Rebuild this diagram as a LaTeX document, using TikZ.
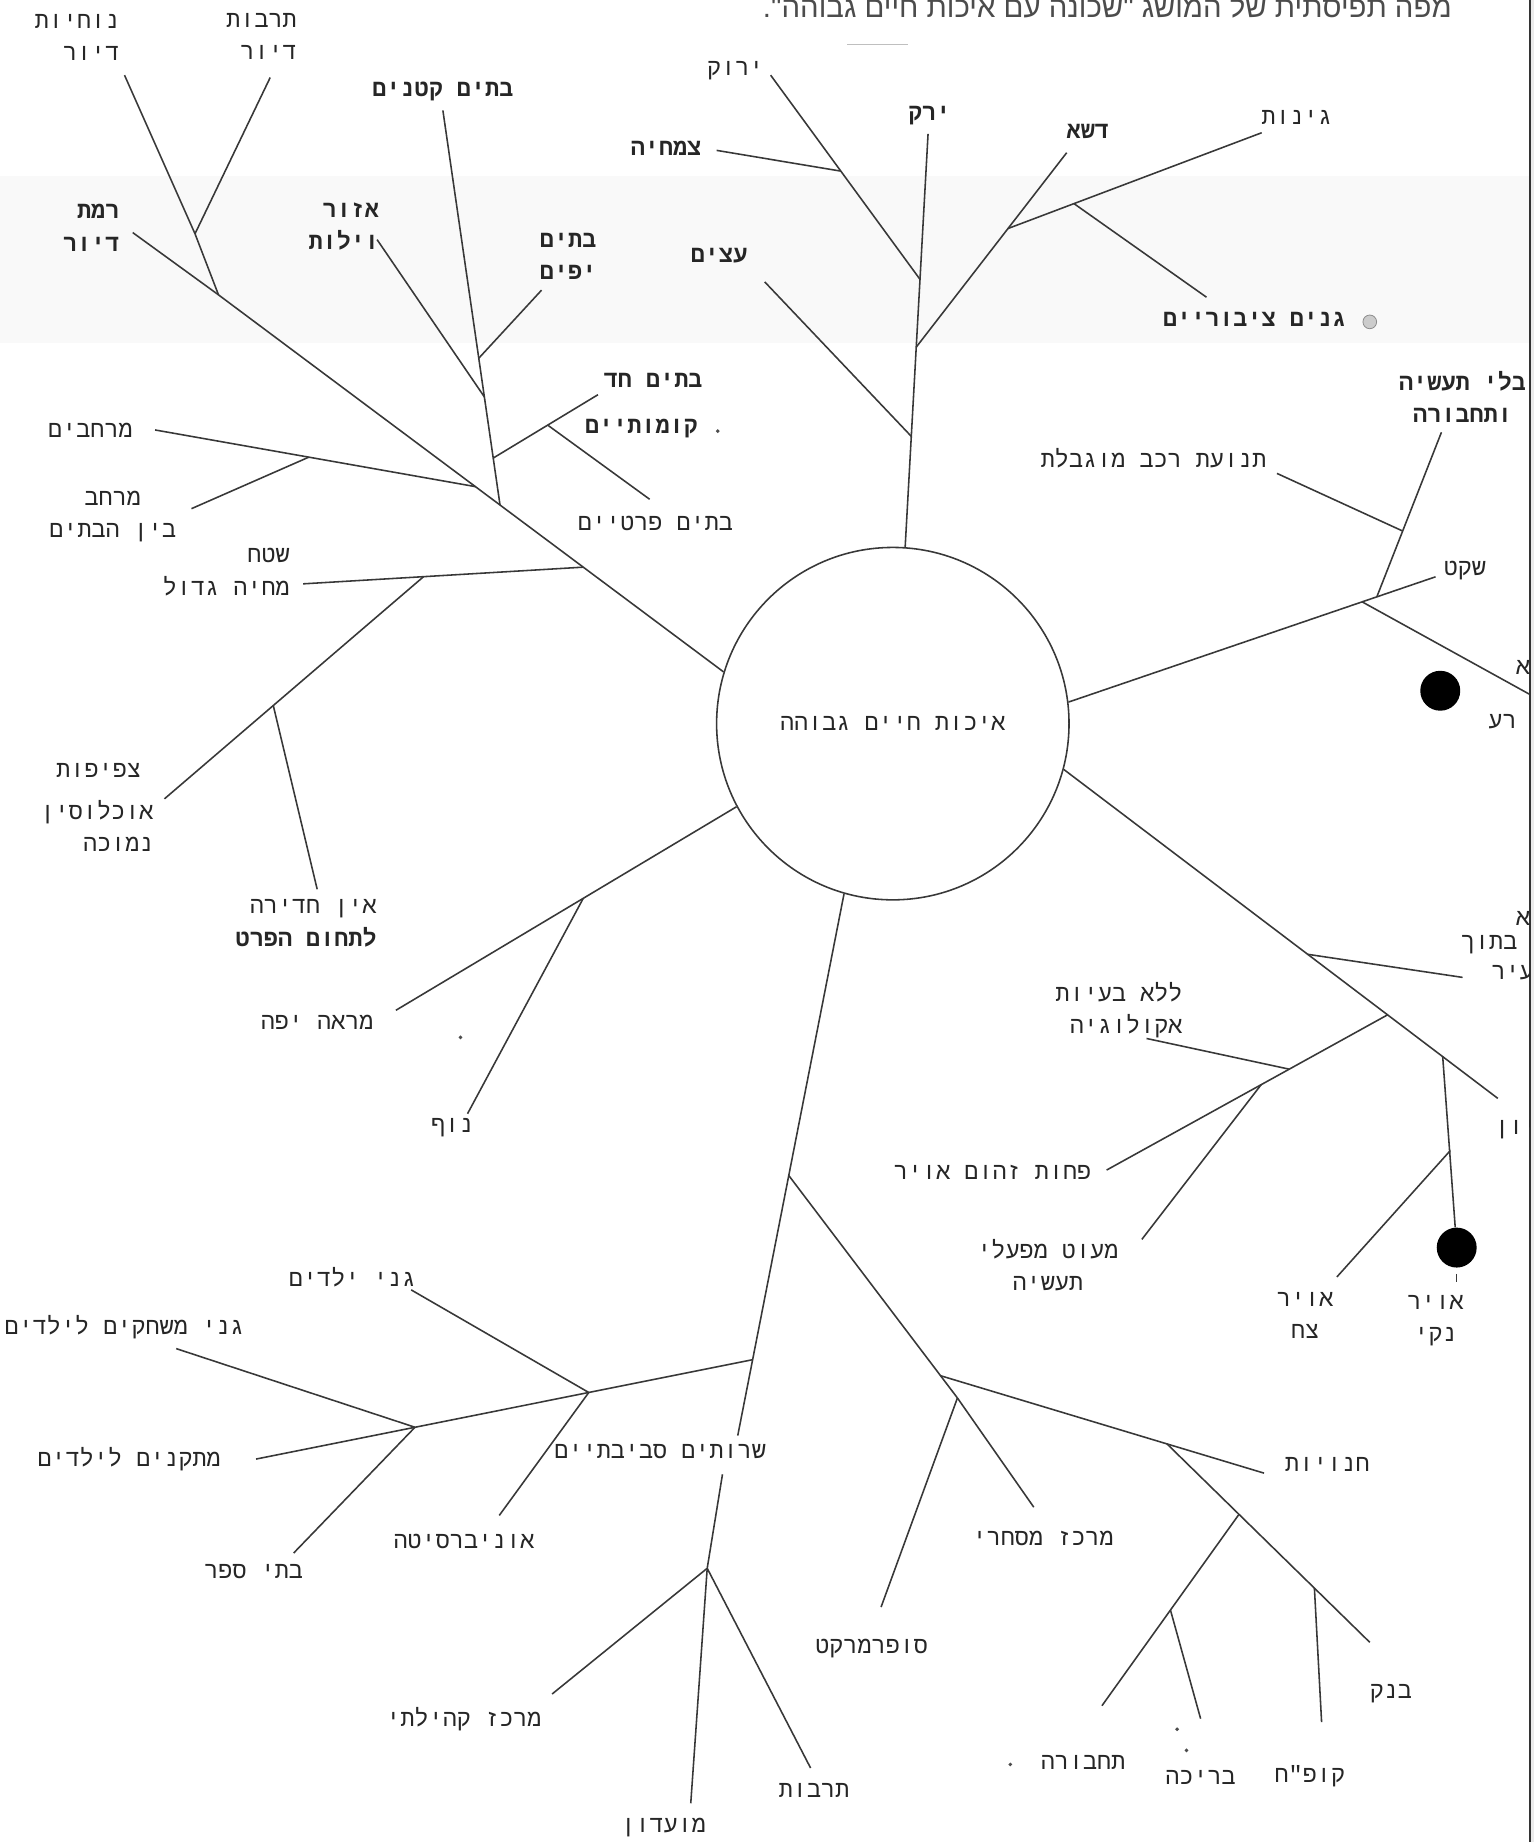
\documentclass[tikz,border=0pt]{standalone}
\usepackage{fontspec}
\usetikzlibrary{calc}
\TeXXeTstate=1
\newfontfamily\hb[Script=Hebrew]{Liberation Mono}
\newfontfamily\hbt[Script=Hebrew]{Liberation Sans}
\newcommand{\heb}[1]{\beginR #1\endR}
\tikzset{
 lbl/.style={font=\hb\fontsize{12}{16.5}\selectfont, text=black!85, inner sep=0pt, align=right},
 blbl/.style={lbl, font=\hb\bfseries\fontsize{12}{16.5}\selectfont},
 br/.style={draw=black!78, line width=0.8pt},
 dotb/.style={circle, fill=black, inner sep=0pt, minimum size=20.4pt},
 speck/.style={circle, fill=black!70, inner sep=0pt, minimum size=2pt},
}
\begin{document}
\begin{tikzpicture}[x=0.6pt,y=-0.6pt]
\useasboundingbox (0,0) rectangle (1306,1568);
\fill[white] (0,0) rectangle (1306,1568);
\fill[black!2.5] (0,150) rectangle (1302,292);
\fill[black!8] (1302,0) rectangle (1306,1568);
\draw[black!80, line width=1pt] (1302,0) -- (1302,1568);
\draw[black!25, line width=0.8pt] (721,38) -- (773,38);

% title
\node[font=\hbt\fontsize{15}{17}\selectfont, text=black!70, anchor=east, inner sep=0pt] (title) at (1236,5) {\heb{מפה תפיסתית של המושג "שכונה עם איכות חיים גבוהה".}};

% centre
\node[draw=black!78, line width=0.8pt, circle, minimum size=180pt, inner sep=0pt, font=\hb\fontsize{12}{14}\selectfont, text=black!85] (C) at (760,616) {\heb{איכות חיים גבוהה}};

% ---------- housing (upper left)
\coordinate (A0) at (C.163);
\coordinate (J1) at (186,251);
\coordinate (RmE) at (113,198);
\coordinate (J1a) at (166,199);
\coordinate (NcE) at (106,64);
\coordinate (TbE) at (230,66);
\coordinate (J2) at ($(A0)!0.4426!(J1)$);
\coordinate (Jm) at ($(A0)!0.4914!(J1)$);
\coordinate (Jsh) at ($(A0)!0.2778!(J1)$);
\coordinate (VT) at (377,94);
\coordinate (Jv1) at ($(VT)!0.628!(J2)$);
\coordinate (Jv2) at ($(VT)!0.726!(J2)$);
\coordinate (Jv3) at ($(VT)!0.881!(J2)$);
\coordinate (YfE) at (461,247);
\coordinate (AzE) at (321,204);
\coordinate (ChE) at (509,336);
\coordinate (Jch) at ($(Jv3)!0.52!(ChE)$);
\coordinate (PrE) at (553,425);
\coordinate (MrE) at (132,366);
\coordinate (Jm2) at ($(MrE)!0.48!(Jm)$);
\coordinate (MbE) at (163,433);
\coordinate (ShE) at (258,497);
\coordinate (Jsh2) at ($(ShE)!0.43!(Jsh)$);
\coordinate (TzE) at (140,680);
\coordinate (Jc) at ($(Jsh2)!0.58!(TzE)$);
\coordinate (AiE) at (270,757);
\draw[br] (A0) -- (J1) -- (RmE);
\draw[br] (J1) -- (J1a) -- (NcE);
\draw[br] (J1a) -- (TbE);
\draw[br] (J2) -- (VT);
\draw[br] (Jv1) -- (YfE);
\draw[br] (Jv2) -- (AzE);
\draw[br] (Jv3) -- (ChE);
\draw[br] (Jch) -- (PrE);
\draw[br] (Jm) -- (MrE);
\draw[br] (Jm2) -- (MbE);
\draw[br] (Jsh) -- (ShE);
\draw[br] (Jsh2) -- (TzE);
\draw[br] (Jc) -- (AiE);

\node[lbl, anchor=east] (nochiut) at (102,32) {\heb{נוחיות}\\\heb{דיור}};
\node[lbl, anchor=east] (tarbutd) at (253,31) {\heb{תרבות}\\\heb{דיור}};
\node[blbl, anchor=east] (ramat) at (102,194) {\heb{רמת}\\\heb{דיור}};
\node[blbl] (ktanim) at (377,78) {\heb{בתים קטנים}};
\node[blbl, anchor=east] (azor) at (323,193) {\heb{אזור}\\\heb{וילות}};
\node[blbl, anchor=east] (yafim) at (508,218) {\heb{בתים}\\\heb{יפים}};
\node[blbl] (chad) at (556,324) {\heb{בתים חד}};
\node[blbl] (komot) at (546,365) {\heb{קומותיים}};
\node[speck] (sp1) at (611,367) {};
\node[lbl] (pratiim) at (558,446) {\heb{בתים פרטיים}};
\node[lbl] (merchavim) at (77,366) {\heb{מרחבים}};
\node[lbl, align=center] (merchav) at (96,440) {\heb{מרחב}\\\heb{בין הבתים}};
\node[lbl, anchor=east] (shetach) at (247,487) {\heb{שטח}\\\heb{מחיה גדול}};
\node[lbl] (tzfifut) at (84,656) {\heb{צפיפות}};
\node[lbl, anchor=east] (ochlusin) at (131,703) {\heb{אוכלוסין}\\\heb{נמוכה}};
\node[lbl, anchor=east] (ein) at (321,786) {\heb{אין חדירה}\\\bfseries\heb{לתחום הפרט}};
\node[lbl] (mare) at (270,870) {\heb{מראה יפה}};
\node[speck] (sp2) at (392,883) {};
\node[lbl] (nof) at (385,960) {\heb{נוף}};

% ---------- greenery (top)
\coordinate (G0) at (C.86);
\coordinate (YkE) at (790,114);
\coordinate (Jet) at ($(G0)!0.268!(YkE)$);
\coordinate (Jgr) at ($(G0)!0.484!(YkE)$);
\coordinate (Jyr) at ($(G0)!0.648!(YkE)$);
\coordinate (YrE) at (656,64);
\coordinate (Jts) at ($(Jyr)!0.53!(YrE)$);
\coordinate (TsE) at (610,128);
\coordinate (EtE) at (651,240);
\coordinate (DsE) at (908,130);
\coordinate (Jdg) at ($(Jgr)!0.61!(DsE)$);
\coordinate (GnE) at (1074,113);
\coordinate (Jgc) at ($(Jdg)!0.26!(GnE)$);
\coordinate (GcE) at (1027,253);
\draw[br] (G0) -- (YkE);
\draw[br] (Jyr) -- (YrE);
\draw[br] (Jts) -- (TsE);
\draw[br] (Jet) -- (EtE);
\draw[br] (Jgr) -- (DsE);
\draw[br] (Jdg) -- (GnE);
\draw[br] (Jgc) -- (GcE);

\node[lbl] (yarok) at (626,60) {\heb{ירוק}};
\node[blbl] (tsmachia) at (567,126) {\heb{צמחיה}};
\node[blbl] (yarak) at (791,98) {\heb{ירק}};
\node[blbl] (etzim) at (612,218) {\heb{עצים}};
\node[blbl] (desha) at (926,112) {\heb{דשא}};
\node[lbl] (ginot) at (1104,100) {\heb{גינות}};
\node[blbl] (ganim) at (1068,272) {\heb{גנים ציבוריים}};
\node[circle, draw=black!45, fill=black!20, minimum size=7pt, inner sep=0pt] (smudge) at (1166,274) {};

% ---------- quiet (right upper)
\coordinate (F0) at (C.7);
\coordinate (SkE) at (1222,491);
\coordinate (Jf) at ($(F0)!0.80!(SkE)$);
\coordinate (Jf2) at ($(F0)!0.84!(SkE)$);
\coordinate (TvE) at (1227,368);
\coordinate (Jtn) at ($(TvE)!0.6!(Jf2)$);
\coordinate (TnE) at (1087,403);
\coordinate (RsE) at (1302,591);
\draw[br] (F0) -- (SkE);
\draw[br] (Jf2) -- (TvE);
\draw[br] (Jtn) -- (TnE);
\draw[br] (Jf) -- (RsE);
\node[lbl] (tnuat) at (982,390) {\heb{תנועת רכב מוגבלת}};
\node[lbl] (shaket) at (1247,486) {\heb{שקט}};
\node[dotb] (D1) at (1226,588) {};
\node[lbl] (raash) at (1279,614) {\heb{רע}};

% ---------- ecology (right lower)
\coordinate (E0) at (C.-15);
\coordinate (EE) at (1275,935);
\coordinate (Je1) at ($(E0)!0.562!(EE)$);
\coordinate (BtE) at (1245,832);
\coordinate (Je2) at ($(E0)!0.746!(EE)$);
\coordinate (PcE) at (942,996);
\coordinate (Je3) at ($(Je2)!0.35!(PcE)$);
\coordinate (Je4) at ($(Je2)!0.45!(PcE)$);
\coordinate (LlE) at (976,884);
\coordinate (MtE) at (972,1055);
\coordinate (Je5) at ($(E0)!0.873!(EE)$);
\node[dotb] (D2) at (1240,1062) {};
\coordinate (Ja) at ($(Je5)!0.55!(D2.north)$);
\coordinate (AtE) at (1138,1087);
\draw[br] (E0) -- (EE);
\draw[br] (Je1) -- (BtE);
\draw[br] (Je2) -- (PcE);
\draw[br] (Je3) -- (LlE);
\draw[br] (Je4) -- (MtE);
\draw[br] (Je5) -- (D2);
\draw[br] (Ja) -- (AtE);
\draw[br] ([yshift=-3pt]D2.south) -- ([yshift=-7pt]D2.south);

\node[lbl, anchor=east] (beayot) at (1007,860) {\heb{ללא בעיות}\\\heb{אקולוגיה}};
\node[lbl] (zihum) at (845,998) {\heb{פחות זהום אויר}};
\node[lbl, align=center] (meut) at (892,1077) {\heb{מעוט מפעלי}\\\heb{תעשיה}};
\node[lbl, align=center] (tzach) at (1111,1120) {\heb{אויר}\\\heb{צח}};
\node[lbl, align=center] (naki) at (1222,1124) {\heb{אויר}\\\heb{נקי}};

% ---------- labels cut at the paper edge
\begin{scope}
\clip (0,0) rectangle (1302,1568);
\node[blbl, align=center] (bli) at (1245,338) {\heb{בלי תעשיה}\\\heb{ותחבורה}};
\node[lbl, anchor=east] (lela1) at (1327,566) {\heb{ללא}};
\node[lbl, anchor=east] (lela2) at (1327,780) {\heb{ללא}};
\node[lbl, anchor=east] (betoch) at (1292,804) {\heb{בתוך}};
\node[lbl, anchor=east] (hair) at (1318,828) {\heb{העיר}};
\node[lbl, anchor=east] (nikayon) at (1345,962) {\heb{ניקיון}};
\end{scope}

% ---------- scenery (lower left)
\coordinate (B0) at (C.208);
\coordinate (BE) at (337,860);
\coordinate (Jb) at ($(B0)!0.45!(BE)$);
\coordinate (NfE) at (398,948);
\draw[br] (B0) -- (BE);
\draw[br] (Jb) -- (NfE);

% ---------- services (bottom)
\coordinate (D0) at (C.254);
\coordinate (DE) at (628,1222);
\coordinate (Jd1) at ($(D0)!0.52!(DE)$);
\coordinate (Jd2) at ($(D0)!0.86!(DE)$);
\coordinate (Jc1b) at (815,1190);
\coordinate (Jc1) at ($(Jd1)!0.90!(Jc1b)$);
\coordinate (ChnE) at (1076,1254);
\coordinate (Jc2) at ($(Jc1)!0.70!(ChnE)$);
\coordinate (BnE) at (1166,1398);
\coordinate (Jc3) at ($(Jc2)!0.355!(BnE)$);
\coordinate (Jc4) at ($(Jc2)!0.727!(BnE)$);
\coordinate (TchE) at (938,1452);
\coordinate (Jc5) at ($(Jc3)!0.5!(TchE)$);
\coordinate (BrE) at (1022,1463);
\coordinate (KpE) at (1125,1466);
\coordinate (SuE) at (750,1368);
\coordinate (MkE) at (880,1283);
\draw[br] (D0) -- (DE);
\draw[br] (Jd1) -- (Jc1b);
\draw[br] (Jc1) -- (ChnE);
\draw[br] (Jc2) -- (BnE);
\draw[br] (Jc3) -- (TchE);
\draw[br] (Jc5) -- (BrE);
\draw[br] (Jc4) -- (KpE);
\draw[br] (Jc1b) -- (SuE);
\draw[br] (Jc1b) -- (MkE);

\coordinate (MkdE) at (218,1242);
\coordinate (Jg1) at ($(Jd2)!0.33!(MkdE)$);
\coordinate (Jg2) at ($(Jd2)!0.68!(MkdE)$);
\coordinate (GyE) at (350,1098);
\coordinate (UnE) at (425,1290);
\coordinate (GmE) at (150,1148);
\coordinate (SpE) at (250,1322);
\draw[br] (Jd2) -- (MkdE);
\draw[br] (Jg1) -- (GyE);
\draw[br] (Jg1) -- (UnE);
\draw[br] (Jg2) -- (GmE);
\draw[br] (Jg2) -- (SpE);

\coordinate (CmT) at (615,1255);
\coordinate (Jk) at (602,1335);
\coordinate (KhE) at (470,1442);
\coordinate (MdE) at (588,1535);
\coordinate (TrE) at (690,1505);
\draw[br] (CmT) -- (Jk) -- (KhE);
\draw[br] (Jk) -- (MdE);
\draw[br] (Jk) -- (TrE);

\node[lbl] (ganey) at (300,1087) {\heb{גני ילדים}};
\node[lbl] (mischak) at (106,1130) {\heb{גני משחקים לילדים}};
\node[lbl] (mitkan) at (110,1242) {\heb{מתקנים לילדים}};
\node[lbl] (sefer) at (216,1338) {\heb{בתי ספר}};
\node[lbl] (univ) at (395,1312) {\heb{אוניברסיטה}};
\node[lbl] (sherut) at (562,1236) {\heb{שרותים סביבתיים}};
\node[lbl] (kehila) at (395,1463) {\heb{מרכז קהילתי}};
\node[lbl] (tarbut) at (693,1524) {\heb{תרבות}};
\node[lbl] (moadon) at (565,1556) {\heb{מועדון}};
\node[lbl] (super) at (742,1403) {\heb{סופרמרקט}};
\node[lbl] (miskhari) at (888,1310) {\heb{מרכז מסחרי}};
\node[lbl] (chanuyot) at (1130,1247) {\heb{חנויות}};
\node[lbl] (bank) at (1184,1442) {\heb{בנק}};
\node[lbl] (kupah) at (1115,1512) {\heb{קופ"ח}};
\node[lbl] (breicha) at (1022,1513) {\heb{בריכה}};
\node[lbl] (tachbura) at (922,1500) {\heb{תחבורה}};
\node[speck] (sp3) at (860,1502) {};
\node[speck] (sp4) at (1002,1472) {};
\node[speck] (sp5) at (1010,1490) {};
\end{tikzpicture}
\end{document}
